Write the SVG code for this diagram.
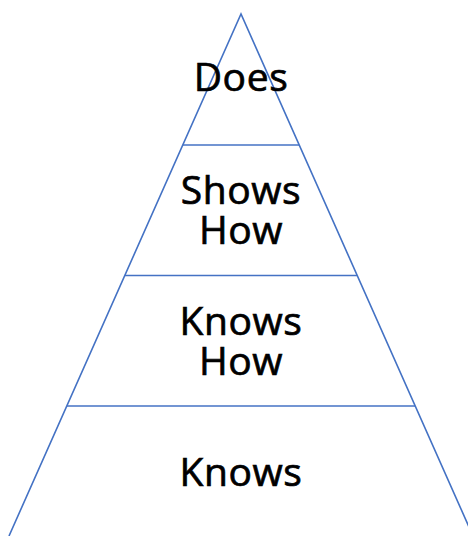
<svg xmlns="http://www.w3.org/2000/svg" width="468" height="536" viewBox="0 0 468 536">
<style>
.ln{stroke:#4472C4;stroke-width:1.6;fill:none}
.t{font-family:"Open Sans","Noto Sans",sans-serif;font-size:39px;font-weight:500;fill:#000;stroke:#000;stroke-width:0.7;text-anchor:middle;letter-spacing:0.6px}
</style>
<rect width="468" height="536" fill="#fff"/>
<g id="connectors">
<path class="ln" d="M9,536 L241,14 L473,536"/>
<line class="ln" x1="183" y1="145" x2="299" y2="145"/>
<line class="ln" x1="125" y1="275.5" x2="357" y2="275.5"/>
<line class="ln" x1="67" y1="406" x2="415" y2="406"/>
</g>
<g id="does"><text class="t" x="241" y="91">Does</text></g>
<g id="shows-how"><text class="t" x="241" y="204">Shows</text><text class="t" x="241" y="244">How</text></g>
<g id="knows-how"><text class="t" x="241" y="335">Knows</text><text class="t" x="241" y="375">How</text></g>
<g id="knows"><text class="t" x="241" y="486">Knows</text></g>
</svg>
